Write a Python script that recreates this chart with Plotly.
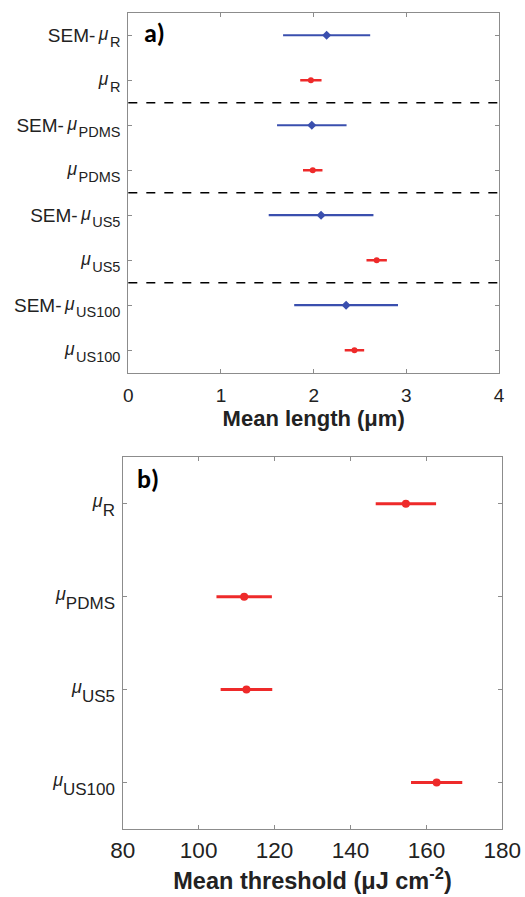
import plotly.graph_objects as go

# Panel a data (top to bottom)
prefix_a = ["SEM-", "", "SEM-", "", "SEM-", "", "SEM-", ""]
sub_a = ["R", "R", "PDMS", "PDMS", "US5", "US5", "US100", "US100"]
sem_pos = [1, 3, 5, 7]
sem_mean = [2.14, 1.98, 2.08, 2.35]
sem_err = [0.47, 0.375, 0.565, 0.56]
mu_pos = [2, 4, 6, 8]
mu_mean = [1.97, 1.99, 2.68, 2.44]
mu_err = [0.115, 0.105, 0.11, 0.105]
group_sep = [2.5, 4.5, 6.5]
xticks_a = [0, 1, 2, 3, 4]

# Panel b data
sub_b = ["R", "PDMS", "US5", "US100"]
thr_pos = [1, 2, 3, 4]
thr_mean = [154.6, 112.0, 112.6, 162.7]
thr_err = [7.95, 7.3, 6.8, 6.75]
xticks_b = [80, 100, 120, 140, 160, 180]

BLUE = "#3a4fae"
RED = "#ee2a2a"
FRAME = "#8c8c8c"
FONT = "Liberation Sans, Arial, sans-serif"
TXT = "#222222"


def tex_label(prefix, sub, mu_size, mu_up, sub_size, sub_down, pad_before, pad_after):
    return (f"{prefix}<span style='font-style:italic;font-size:{mu_size}px;baseline-shift:{mu_up}px'>"
            f"{pad_before}μ{pad_after}</span>"
            f"<span style='font-size:{sub_size}px;baseline-shift:-{sub_down}px'>{sub}</span>")


labels_a = [tex_label(p, s, 17.5, 2, 14.5, 5, "\u2009", "\u200a") for p, s in zip(prefix_a, sub_a)]
labels_b = [tex_label("", s, 18, 3, 17, 6, "", "") for s in sub_b]

fig = go.Figure()

fig.add_trace(go.Scatter(
    x=sem_mean, y=sem_pos, mode="markers", xaxis="x", yaxis="y",
    marker=dict(symbol="diamond", size=7, color=BLUE),
    error_x=dict(type="data", array=sem_err, width=0, thickness=2.2, color=BLUE),
    showlegend=False))
fig.add_trace(go.Scatter(
    x=mu_mean, y=mu_pos, mode="markers", xaxis="x", yaxis="y",
    marker=dict(symbol="circle", size=6, color=RED),
    error_x=dict(type="data", array=mu_err, width=0, thickness=2.5, color=RED),
    showlegend=False))
fig.add_trace(go.Scatter(
    x=thr_mean, y=thr_pos, mode="markers", xaxis="x2", yaxis="y2",
    marker=dict(symbol="circle", size=8, color=RED),
    error_x=dict(type="data", array=thr_err, width=0, thickness=3, color=RED),
    showlegend=False))

for s in group_sep:
    fig.add_shape(type="line", xref="x domain", yref="y", x0=0, x1=1, y0=s, y1=s,
                  line=dict(color="black", width=1.5, dash="dash"))

axis_common = dict(showline=True, linecolor=FRAME, linewidth=1.2, mirror="ticks",
                   ticks="inside", ticklen=4, tickcolor=FRAME, showgrid=False,
                   zeroline=False, automargin=False)

fig.update_layout(
    template="none",
    width=525, height=897,
    margin=dict(l=0, r=0, t=0, b=0),
    paper_bgcolor="white", plot_bgcolor="white",
    font=dict(family=FONT, color=TXT),
    xaxis=dict(domain=[0.2444, 0.9505], range=[0, 4], tickvals=xticks_a,
               anchor="y", ticklabelstandoff=5,
               title=dict(text="<b>Mean length (μm)</b>", font=dict(size=22), standoff=5),
               tickfont=dict(family=FONT, size=19, color=TXT), **axis_common),
    yaxis=dict(domain=[0.5845, 0.9858], range=[8.5, 0.5], tickvals=list(range(1, 9)),
               ticktext=labels_a, anchor="x", ticklabelstandoff=3,
               tickfont=dict(family=FONT, size=19, color=TXT), **axis_common),
    xaxis2=dict(domain=[0.2337, 0.9568], range=[80, 180], tickvals=xticks_b,
                anchor="y2", ticklabelstandoff=1,
                title=dict(text="<b>Mean threshold (μJ cm<sup>-2</sup>)</b>", font=dict(size=23.5), standoff=10),
                tickfont=dict(family=FONT, size=22.5, color=TXT), **axis_common),
    yaxis2=dict(domain=[0.0758, 0.4902], range=[4.5, 0.5], tickvals=thr_pos,
                ticktext=labels_b, anchor="x2", ticklabelstandoff=3,
                tickfont=dict(family=FONT, size=18, color=TXT), **axis_common),
    annotations=[
        dict(text="<b>a)</b>", xref="paper", yref="paper", x=142 / 525, y=1 - 33 / 897,
             xanchor="left", yanchor="middle", showarrow=False,
             font=dict(family="Carlito, Calibri, Liberation Sans, sans-serif", size=26, color="black")),
        dict(text="<b>b)</b>", xref="paper", yref="paper", x=135 / 525, y=1 - 479 / 897,
             xanchor="left", yanchor="middle", showarrow=False,
             font=dict(family="Carlito, Calibri, Liberation Sans, sans-serif", size=26, color="black")),
    ],
)

fig.write_html("out.html", config={"displayModeBar": False},
               post_script="document.body.style.margin='0';")
